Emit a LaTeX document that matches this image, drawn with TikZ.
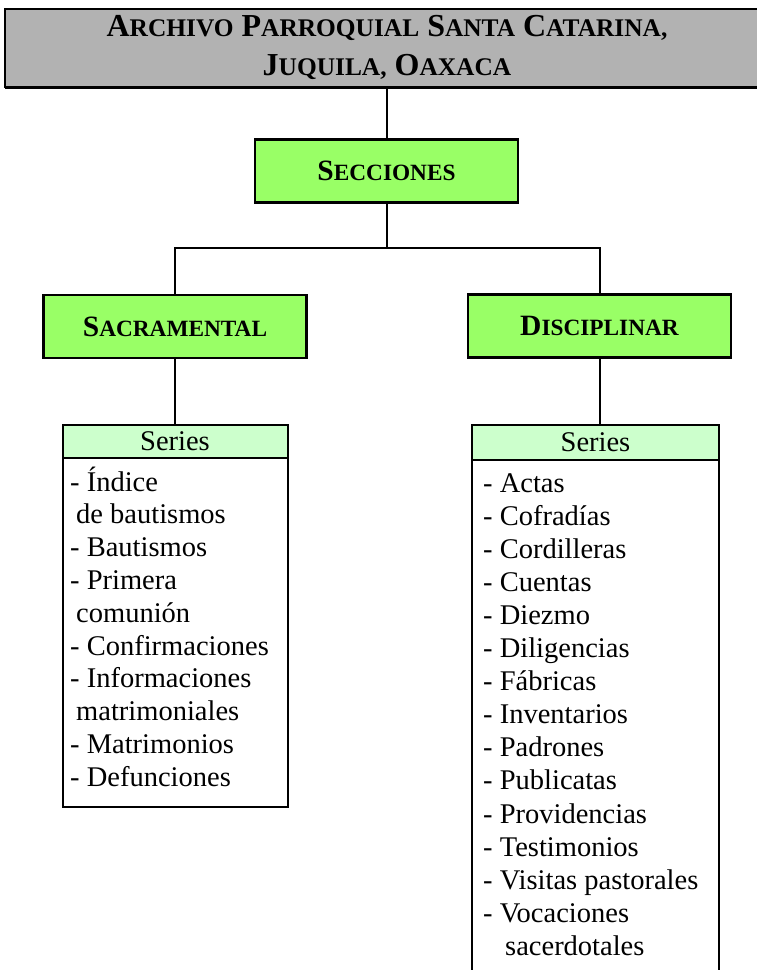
\documentclass[tikz,border=0pt]{standalone}
\usepackage{fontspec}
\setmainfont{Liberation Serif}
\usetikzlibrary{shadows}
\definecolor{titlegray}{RGB}{178,178,178}
\definecolor{boxgreen}{RGB}{153,255,102}
\definecolor{headgreen}{RGB}{204,255,204}
\newcommand{\bigsc}[2]{{\fontsize{29.5}{39}\selectfont #1}{\fontsize{23.3}{39}\selectfont #2}}
\newcommand{\titlesc}[2]{{\fontsize{32}{39}\selectfont #1}{\fontsize{25.4}{39}\selectfont #2}}
\begin{document}
\begin{tikzpicture}[x=1pt,y=-1pt,
  titlebox/.style={draw, line width=2pt, fill=titlegray, minimum width=764pt,
    minimum height=78pt, inner sep=0pt, align=center,
    font=\bfseries\fontsize{32}{39}\selectfont,
    drop shadow={shadow xshift=0pt, shadow yshift=-2pt, fill=black, opacity=1}},
  secbox/.style={draw, line width=2.3pt, fill=boxgreen, minimum width=263pt,
    minimum height=63pt, inner sep=0pt, font=\bfseries},
  seriesbox/.style={draw, line width=2pt, fill=white, inner sep=0pt},
  serieshead/.style={draw, line width=2pt, fill=headgreen, inner sep=0pt,
    font=\fontsize{28.5}{30}\selectfont},
  item/.style={anchor=base west, inner sep=0pt, font=\fontsize{28.5}{30}\selectfont},
  link/.style={line width=2pt}]
\useasboundingbox (0,0) rectangle (757,970);
\clip (0,0) rectangle (757,970);

% title
\node[titlebox] (title) at (387,47.5)
  {\titlesc{A}{RCHIVO} \titlesc{P}{ARROQUIAL} \titlesc{S}{ANTA} \titlesc{C}{ATARINA,}\\
   \titlesc{J}{UQUILA,} \titlesc{O}{AXACA}};

% sections
\node[secbox] (sec) at (386.5,171) {\bigsc{S}{ECCIONES}};
\node[secbox] (sac) at (175,326.5) {\bigsc{S}{ACRAMENTAL}};
\node[secbox] (dis) at (599.5,326) {\bigsc{D}{ISCIPLINAR}};

\coordinate (bus) at (386.5,248);
\draw[link] (title.south -| sec.north) -- (sec.north);
\draw[link] (sec.south) -- (bus);
\draw[link] (sac.north) |- (bus) -| (dis.north);

% series boxes
\node[seriesbox, minimum width=225pt, minimum height=382pt, anchor=north] (lbox) at (175,424) {};
\node[serieshead, minimum width=225pt, minimum height=33pt, anchor=north] (lhead) at (175,424) {Series};
\node[seriesbox, minimum width=247pt, minimum height=570pt, anchor=north] (rbox) at (595.5,424) {};
\node[serieshead, minimum width=247pt, minimum height=35pt, anchor=north] (rhead) at (595.5,424) {Series};

\draw[link] (sac.south) -- (lhead.north);
\draw[link] (dis.south) -- (dis.south |- rhead.north);

% lists
\foreach \t [count=\i from 0] in {{- Índice},{\hspace*{6pt}de bautismos},{- Bautismos},{- Primera},
  {\hspace*{6pt}comunión},{- Confirmaciones},{- Informaciones},{\hspace*{6pt}matrimoniales},
  {- Matrimonios},{- Defunciones}}
  \node[item] (l\i) at (70,{491+\i*32.8}) {\t};

\foreach \t [count=\i from 0] in {{- Actas},{- Cofradías},{- Cordilleras},{- Cuentas},{- Diezmo},
  {- Diligencias},{- Fábricas},{- Inventarios},{- Padrones},{- Publicatas},{- Providencias},
  {- Testimonios},{- Visitas pastorales},{- Vocaciones},{\hspace*{22pt}sacerdotales}}
  \node[item] (r\i) at (483,{492+\i*33.1}) {\t};
\end{tikzpicture}
\end{document}
